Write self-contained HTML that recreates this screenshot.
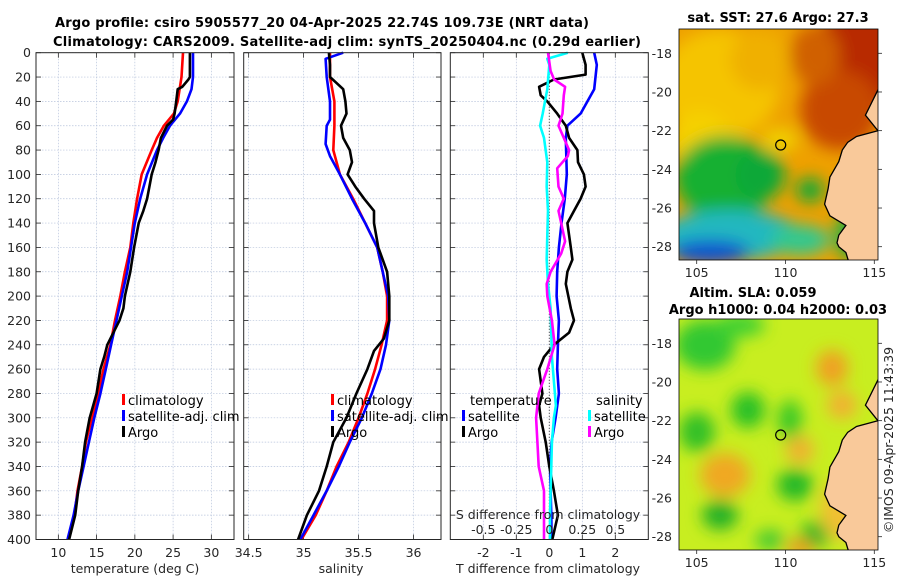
<!DOCTYPE html>
<html><head><meta charset="utf-8">
<style>
html,body{margin:0;padding:0;background:#fff;}
svg{display:block;font-family:"DejaVu Sans","Liberation Sans",sans-serif;}
.tk{font-size:12.5px;fill:#262626;}
.tt{font-size:13px;font-weight:bold;fill:#000;}
.lg{font-size:13px;fill:#000;}
</style></head>
<body>
<svg id="fig" width="900" height="580" viewBox="0 0 900 580">
<defs>
<filter id="blur8" x="-50%" y="-50%" width="200%" height="200%"><feGaussianBlur stdDeviation="8"/></filter>
<clipPath id="clipM1"><rect x="679" y="29" width="199" height="231"/></clipPath>
<clipPath id="clipM2"><rect x="679" y="319" width="199" height="231"/></clipPath>
</defs>
<text class="tt" x="322" y="27" text-anchor="middle" textLength="534">Argo profile: csiro 5905577_20 04-Apr-2025 22.74S 109.73E (NRT data)</text>
<text class="tt" x="347" y="46" text-anchor="middle" textLength="588">Climatology: CARS2009. Satellite-adj clim: synTS_20250404.nc (0.29d earlier)</text>
<g id="p1"></g>
<g id="p2"></g>
<g id="p3"></g>

<g id="map1">
 <text class="tt" x="778" y="22" text-anchor="middle">sat. SST: 27.6 Argo: 27.3</text>
 <g clip-path="url(#clipM1)">
  <rect x="679" y="29" width="199" height="231" fill="#eea000"/>
  <g filter="url(#blur8)">
   <ellipse cx="720" cy="85" rx="60" ry="55" fill="#f5c400"/>
   <ellipse cx="760" cy="60" rx="30" ry="30" fill="#f0b000"/>
   <ellipse cx="700" cy="140" rx="30" ry="30" fill="#f5d000"/>
   <ellipse cx="860" cy="60" rx="50" ry="55" fill="#b82a00"/>
   <ellipse cx="840" cy="110" rx="40" ry="40" fill="#c84800"/>
   <ellipse cx="815" cy="55" rx="25" ry="30" fill="#d06000"/>
   <ellipse cx="780" cy="140" rx="18" ry="12" fill="#f0d000"/>
   <ellipse cx="725" cy="178" rx="50" ry="42" fill="#18b030"/>
   <ellipse cx="760" cy="175" rx="25" ry="25" fill="#10a838"/>
   <ellipse cx="810" cy="190" rx="14" ry="12" fill="#10a838"/>
   <ellipse cx="730" cy="235" rx="70" ry="25" fill="#20b8c0"/>
   <ellipse cx="710" cy="252" rx="40" ry="12" fill="#1050d0"/>
   <ellipse cx="800" cy="240" rx="30" ry="15" fill="#30c890"/>
   <ellipse cx="850" cy="235" rx="15" ry="25" fill="#20b040"/>
  </g>
  <path id="land1" d="" fill="#f9c99a" stroke="#000" stroke-width="1.3"/>
 </g>
 <rect x="679" y="29" width="199" height="231" fill="none" stroke="#000" stroke-width="0.8"/>
 <circle cx="780.7" cy="145" r="5" fill="none" stroke="#000" stroke-width="1.2"/>
</g>

<g id="map2">
 <text class="tt" x="753" y="297" text-anchor="middle">Altim. SLA: 0.059</text>
 <text class="tt" x="778" y="314" text-anchor="middle">Argo h1000: 0.04 h2000: 0.03</text>
 <g clip-path="url(#clipM2)">
  <rect x="679" y="319" width="199" height="231" fill="#c8ee20"/>
  <g filter="url(#blur8)">
   <ellipse cx="705" cy="345" rx="30" ry="25" fill="#30c830"/>
   <ellipse cx="740" cy="325" rx="25" ry="12" fill="#40d030"/>
   <ellipse cx="832" cy="368" rx="16" ry="18" fill="#f0a020"/>
   <ellipse cx="842" cy="405" rx="15" ry="14" fill="#f2b030"/>
   <ellipse cx="748" cy="410" rx="17" ry="18" fill="#28c028"/>
   <ellipse cx="790" cy="420" rx="12" ry="20" fill="#38c828"/>
   <ellipse cx="697" cy="432" rx="18" ry="20" fill="#30c028"/>
   <ellipse cx="800" cy="450" rx="14" ry="14" fill="#f0b030"/>
   <ellipse cx="725" cy="475" rx="25" ry="22" fill="#f0a820"/>
   <ellipse cx="795" cy="485" rx="18" ry="16" fill="#20b828"/>
   <ellipse cx="720" cy="515" rx="18" ry="15" fill="#20b028"/>
   <ellipse cx="815" cy="535" rx="15" ry="14" fill="#28b828"/>
   <ellipse cx="800" cy="548" rx="15" ry="8" fill="#f09020"/>
   <ellipse cx="840" cy="510" rx="20" ry="30" fill="#f0c030"/>
   <ellipse cx="770" cy="540" rx="15" ry="10" fill="#40c830"/>
  </g>
  <path id="land2" d="" fill="#f9c99a" stroke="#000" stroke-width="1.3"/>
 </g>
 <rect x="679" y="319" width="199" height="231" fill="none" stroke="#000" stroke-width="0.8"/>
 <circle cx="780.7" cy="435" r="5" fill="none" stroke="#000" stroke-width="1.2"/>
</g>
<text class="tk" x="893" y="440" text-anchor="middle" transform="rotate(-90 893 440)" font-size="13">©IMOS 09-Apr-2025 11:43:39</text>
</svg>
<script>
// ---------- data ----------
const depthTicks = [0,20,40,60,80,100,120,140,160,180,200,220,240,260,280,300,320,340,360,380,400];
const tempTicks = [10,15,20,25,30];
const salTicks = [34.5,35,35.5,36];
const salTickLabels = ["34.5","35","35.5","36"];
const tdiffTicks = [-2,-1,0,1,2];
const sdiffTicks = [-0.5,-0.25,0,0.25,0.5];
const sdiffTickLabels = ["-0.5","-0.25","0","0.25","0.5"];

const climTempDepth = [0,20,40,50,60,70,80,100,120,140,160,180,200,220,240,260,280,300,320,340,360,380,400];
const climTemp = [26.3,26.1,25.6,25.1,23.8,22.9,22.2,20.9,20.3,19.8,19.4,18.7,18.1,17.4,16.8,15.9,15.2,14.4,13.6,13.1,12.5,12.1,11.3];
const satTempDepth = [0,20,30,40,50,60,70,80,100,120,140,160,180,200,220,240,260,280,300,320,340,360,380,400];
const satTemp = [27.6,27.6,27.4,26.8,25.9,24.6,23.7,22.9,21.6,20.7,20.0,19.5,19.0,18.3,17.6,16.9,16.2,15.5,14.7,14.0,13.3,12.6,12.0,11.2];
const argoTempDepth = [0,20,22,28,30,40,50,55,60,70,80,90,100,110,120,130,140,160,180,200,210,220,240,250,260,280,300,320,340,360,380,400];
const argoTemp = [27.2,27.2,27.0,26.2,25.6,25.4,25.2,25.0,24.2,23.4,23.1,22.7,22.2,21.9,21.6,21.1,20.5,19.9,19.4,18.7,18.5,18.0,16.4,16.0,15.5,15.0,14.1,13.5,13.1,12.6,12.2,11.4];

const climSalDepth = [0,20,40,60,80,100,120,140,160,180,200,220,240,260,280,300,320,340,360,380,400];
const climSal = [35.24,35.24,35.28,35.28,35.27,35.33,35.45,35.56,35.67,35.72,35.76,35.76,35.71,35.65,35.58,35.50,35.41,35.30,35.21,35.11,34.98];
const satSalDepth = [0,5,20,40,55,60,75,85,100,120,140,160,180,200,220,240,260,280,300,320,340,360,380,400];
const satSal = [35.36,35.20,35.21,35.24,35.24,35.21,35.20,35.24,35.33,35.44,35.56,35.67,35.72,35.77,35.78,35.75,35.70,35.62,35.53,35.42,35.32,35.21,35.09,34.97];
const argoSalDepth = [0,10,20,25,30,40,50,60,70,80,90,100,110,120,130,140,160,180,200,220,235,245,260,280,300,320,340,360,380,400];
const argoSal = [35.23,35.24,35.24,35.30,35.36,35.38,35.39,35.34,35.36,35.42,35.44,35.40,35.47,35.55,35.64,35.64,35.68,35.76,35.78,35.78,35.73,35.64,35.58,35.48,35.39,35.27,35.21,35.14,35.03,34.95];

const tdSatDepth = [0,10,30,50,60,70,100,120,140,160,180,200,220,240,260,280,300,320,340,360,380,400];
const tdSat = [1.36,1.44,1.36,0.95,0.55,0.50,0.53,0.47,0.37,0.29,0.24,0.22,0.29,0.26,0.24,0.29,0.19,0.07,0.02,0.04,0.06,0.07];
const tdArgoDepth = [0,10,18,22,28,35,40,50,60,70,80,90,100,110,120,130,140,150,160,170,180,190,210,220,230,240,250,260,280,290,300,320,340,360,380,400];
const tdArgo = [1.0,1.1,1.1,0.14,-0.31,-0.26,-0.06,0.24,0.5,0.6,0.85,0.87,1.05,1.1,0.95,0.75,0.55,0.6,0.65,0.7,0.55,0.5,0.65,0.75,0.6,0.14,-0.16,-0.31,-0.21,-0.31,-0.26,-0.11,0.0,0.14,0.26,0.09];
const sdSatDepth = [0,5,10,30,50,60,70,90,110,130,150,170,190,210,230,250,270,290,300,320,340,360,380,400];
const sdSat = [0.14,-0.015,0.0,-0.015,-0.05,-0.07,-0.04,-0.015,-0.02,-0.01,-0.015,-0.02,-0.01,0.01,0.015,0.02,0.035,0.05,0.035,0.02,0.015,0.01,0.005,0.005];
const sdArgoDepth = [0,15,22,28,35,50,60,70,80,85,95,110,120,130,140,155,165,180,190,200,220,240,260,280,300,320,340,360,380,400];
const sdArgo = [-0.01,0.01,0.036,0.12,0.11,0.10,0.07,0.11,0.15,0.14,0.06,0.07,0.11,0.07,0.09,0.12,0.09,0.01,-0.02,-0.015,0.02,0.04,-0.015,-0.08,-0.10,-0.09,-0.08,-0.04,-0.04,-0.04];

// coastline (lon, lat)
const coastLon = [115.2,114.0,113.5,113.2,113.0,112.5,112.4,112.2,112.5,113.4,113.0,112.9,113.0,113.4,113.6,115.2];
const coastLat = [-22.0,-22.3,-22.6,-23.0,-23.6,-24.4,-25.0,-25.8,-26.4,-26.9,-27.4,-27.8,-28.0,-28.3,-28.9,-28.9];

// ---------- helpers ----------
const NS = "http://www.w3.org/2000/svg";
const Y0 = 52.7, Y1 = 539.5;
function yD(d){ return Y0 + (d/400)*(Y1-Y0); }
function mk(tag, attrs, parent){ const e=document.createElementNS(NS,tag); for(const k in attrs) e.setAttribute(k,attrs[k]); parent.appendChild(e); return e; }

function axesFrame(g, x0, x1, xTicks, xScale, xLabels, showY, name){
  depthTicks.forEach(d=>{
    const l = mk('line',{x1:x0,x2:x1,y1:yD(d),y2:yD(d),stroke:'#b8c4dc','stroke-width':0.7,'stroke-dasharray':'1.5,1.5'},g);
    
    
    const t1 = mk('line',{x1:x0,x2:x0+5,y1:yD(d),y2:yD(d),stroke:'#262626','stroke-width':0.8},g);
    
    
    const t2 = mk('line',{x1:x1-5,x2:x1,y1:yD(d),y2:yD(d),stroke:'#262626','stroke-width':0.8},g);
    
    
    if(showY){
      const tx = mk('text',{x:x0-5,y:yD(d)+4.5,'text-anchor':'end','class':'tk'},g);
      tx.textContent = d;
      
      
    }
  });
  xTicks.forEach((v,i)=>{
    const x = xScale(v);
    const l = mk('line',{x1:x,x2:x,y1:Y0,y2:Y1,stroke:'#b8c4dc','stroke-width':0.7,'stroke-dasharray':'1.5,1.5'},g);
    
    
    const t1 = mk('line',{x1:x,x2:x,y1:Y0,y2:Y0+5,stroke:'#262626','stroke-width':0.8},g);
    
    
    const t2 = mk('line',{x1:x,x2:x,y1:Y1-5,y2:Y1,stroke:'#262626','stroke-width':0.8},g);
    
    
    const tx = mk('text',{x:x,y:557,'text-anchor':'middle','class':'tk'},g);
    tx.textContent = xLabels[i];
    
    
  });
}
function line(g, depths, vals, xScale, color, name){
  const pts = depths.map((d,i)=>xScale(vals[i]).toFixed(1)+','+yD(d).toFixed(1)).join(' ');
  const p = mk('polyline',{points:pts,fill:'none',stroke:color,'stroke-width':2.6,'stroke-linejoin':'round'},g);
  
  
}
function frame(g,x0,x1,name){
  const r = mk('rect',{x:x0,y:Y0,width:x1-x0,height:Y1-Y0,fill:'none',stroke:'#262626','stroke-width':1},g);
  
  
}
function legendRow(g,x,y,color,label,name){
  const b = mk('rect',{x:x,y:y-7,width:3,height:11,fill:color},g);
  
  
  const t = mk('text',{x:x+6,y:y+4,'class':'lg'},g);
  t.textContent = label;
  
  
}
function axisLabel(g,x,y,txt,name){
  const t = mk('text',{x:x,y:y,'text-anchor':'middle','class':'tk','font-size':'13'},g);
  t.textContent = txt;
  
  
}
const LY = [401,417,433];

// ---------- panel 1 ----------
const p1 = document.getElementById('p1');
const xT = v => 36 + (v-7.08)/(32.96-7.08)*(234-36);
axesFrame(p1,36,234,tempTicks,xT,tempTicks.map(String),true,'temp');
line(p1,climTempDepth,climTemp,xT,'#ff0000','temp-climatology-line');
line(p1,satTempDepth,satTemp,xT,'#0000ff','temp-satellite-line');
line(p1,argoTempDepth,argoTemp,xT,'#000000','temp-argo-line');
frame(p1,36,234,'temp');
legendRow(p1,122,LY[0],'#ff0000','climatology','temp-legend-climatology');
legendRow(p1,122,LY[1],'#0000ff','satellite-adj. clim','temp-legend-satellite');
legendRow(p1,122,LY[2],'#000000','Argo','temp-legend-argo');
axisLabel(p1,135,573,'temperature (deg C)','temp-x-axis-title');

// ---------- panel 2 ----------
const p2 = document.getElementById('p2');
const xS = v => 243.7 + (v-34.455)/(36.25-34.455)*(441-243.7);
axesFrame(p2,243.7,441,salTicks,xS,salTickLabels,false,'sal');
line(p2,climSalDepth,climSal,xS,'#ff0000','sal-climatology-line');
line(p2,satSalDepth,satSal,xS,'#0000ff','sal-satellite-line');
line(p2,argoSalDepth,argoSal,xS,'#000000','sal-argo-line');
frame(p2,243.7,441,'sal');
legendRow(p2,331,LY[0],'#ff0000','climatology','sal-legend-climatology');
legendRow(p2,331,LY[1],'#0000ff','satellite-adj. clim','sal-legend-satellite');
legendRow(p2,331,LY[2],'#000000','Argo','sal-legend-argo');
axisLabel(p2,341,573,'salinity','sal-x-axis-title');

// ---------- panel 3 ----------
const p3 = document.getElementById('p3');
const xTD = v => 450.3 + (v+3)/6*(648.3-450.3);
const xSD = v => 450.3 + (v+0.75)/1.5*(648.3-450.3);
axesFrame(p3,450.3,648.3,tdiffTicks,xTD,tdiffTicks.map(String),false,'diff');
const zl = mk('line',{x1:xTD(0),x2:xTD(0),y1:Y0,y2:Y1,stroke:'#333','stroke-width':1,'stroke-dasharray':'1,2'},p3);


line(p3,tdSatDepth,tdSat,xTD,'#0000ff','tdiff-satellite-line');
line(p3,tdArgoDepth,tdArgo,xTD,'#000000','tdiff-argo-line');
line(p3,sdSatDepth,sdSat,xSD,'#00ffff','sdiff-satellite-line');
line(p3,sdArgoDepth,sdArgo,xSD,'#ff00ff','sdiff-argo-line');
frame(p3,450.3,648.3,'diff');
const th = mk('text',{x:470,y:LY[0]+4,'class':'lg'},p3); th.textContent='temperature';


const sh = mk('text',{x:596,y:LY[0]+4,'class':'lg'},p3); sh.textContent='salinity';


legendRow(p3,462,LY[1],'#0000ff','satellite','diff-legend-t-satellite');
legendRow(p3,462,LY[2],'#000000','Argo','diff-legend-t-argo');
legendRow(p3,588,LY[1],'#00ffff','satellite','diff-legend-s-satellite');
legendRow(p3,588,LY[2],'#ff00ff','Argo','diff-legend-s-argo');
axisLabel(p3,548,519,'S difference from climatology','sdiff-axis-title');
sdiffTicks.forEach((v,i)=>{
  const t = mk('text',{x:xSD(v),y:534,'text-anchor':'middle','class':'tk'},p3);
  t.textContent = sdiffTickLabels[i];
  
  
});
axisLabel(p3,548,573,'T difference from climatology','tdiff-x-axis-title');

// ---------- maps ----------
const lonX = lon => 696.7 + (lon-105)*17.76;
const latY = (lat,off) => 53.3 + (-18-lat)*19.34 + off;
function coastPath(off){
  let d = 'M'+lonX(116)+','+latY(-16,off)+' L'+lonX(116)+','+latY(-19.9,off)+' L'+lonX(115.2)+','+latY(-19.9,off)+' L'+lonX(114.5)+','+latY(-21.2,off);
  coastLon.forEach((lo,i)=>{ d += ' L'+lonX(lo).toFixed(1)+','+latY(coastLat[i],off).toFixed(1); });
  d += ' L'+lonX(116)+','+latY(-30,off)+' Z';
  return d;
}
document.getElementById('land1').setAttribute('d', coastPath(0));
document.getElementById('land2').setAttribute('d', coastPath(290));
[['map1',0,260],['map2',290,550]].forEach(([id,off,bottom])=>{
  const g = document.getElementById(id);
  [-18,-20,-22,-24,-26,-28].forEach(lat=>{
    const y = latY(lat,off);
    const t = mk('text',{x:672,y:y+4.5,'text-anchor':'end','class':'tk'},g);
    t.textContent = lat;
    
    
    const k = mk('line',{x1:878,x2:882,y1:y,y2:y,stroke:'#262626','stroke-width':0.8},g);
    
    
  });
  [105,110,115].forEach(lon=>{
    const x = lonX(lon);
    const t = mk('text',{x:x,y:bottom+17,'text-anchor':'middle','class':'tk'},g);
    t.textContent = lon;
    
    
    const k = mk('line',{x1:x,x2:x,y1:bottom,y2:bottom+4,stroke:'#262626','stroke-width':0.8},g);
    
    
  });
});
</script>
</body></html>
